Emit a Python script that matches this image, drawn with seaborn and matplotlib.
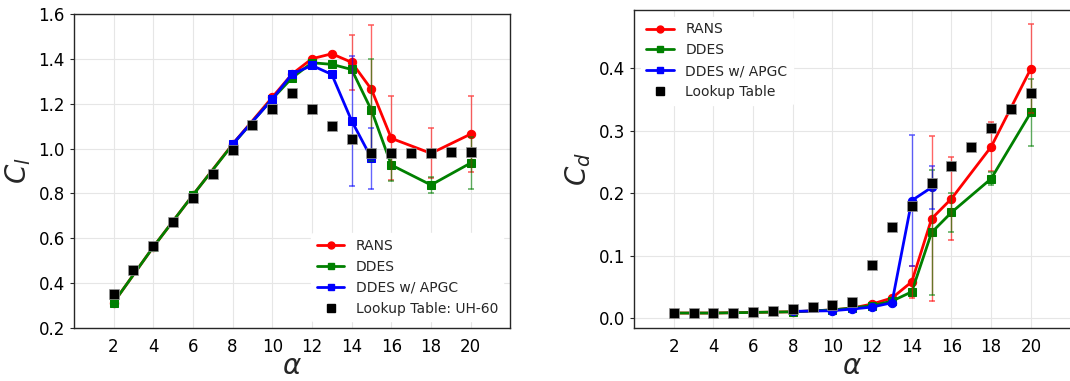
import numpy as np
import pandas as pd
import matplotlib
matplotlib.use("Agg")
import matplotlib.pyplot as plt
from matplotlib.lines import Line2D
import seaborn as sns

# ---------------- data ----------------
alpha_cfd = [2, 4, 6, 8, 10, 11, 12, 13, 14, 15, 16, 18, 20]
alpha_apgc = [8, 10, 11, 12, 13, 14, 15]
alpha_lut = list(range(2, 21))

cl_rans = [0.313, 0.561, 0.793, 1.020, 1.229, 1.333, 1.401, 1.423, 1.385, 1.264, 1.046, 0.979, 1.065]
cl_rans_err = [0, 0, 0, 0, 0, 0, 0, 0, 0.122, 0.286, 0.188, 0.112, 0.171]
cl_ddes = [0.313, 0.561, 0.793, 1.018, 1.222, 1.316, 1.383, 1.376, 1.353, 1.171, 0.927, 0.838, 0.936]
cl_ddes_err = [0, 0, 0, 0, 0, 0, 0, 0, 0, 0.228, 0.070, 0.035, 0.118]
cl_apgc = [1.020, 1.221, 1.333, 1.371, 1.331, 1.124, 0.957]
cl_apgc_err = [0, 0, 0, 0, 0, 0.290, 0.135]
cl_lut = [0.352, 0.459, 0.567, 0.673, 0.781, 0.887, 0.994, 1.104, 1.175, 1.249,
          1.175, 1.101, 1.041, 0.980, 0.982, 0.982, 0.982, 0.984, 0.986]

cd_rans = [0.008, 0.008, 0.009, 0.010, 0.013, 0.016, 0.0224, 0.032, 0.058, 0.159, 0.191, 0.274, 0.399]
cd_rans_err = [0, 0, 0, 0, 0, 0, 0, 0, 0.026, 0.132, 0.066, 0.039, 0.071]
cd_ddes = [0.008, 0.008, 0.009, 0.010, 0.013, 0.016, 0.020, 0.027, 0.042, 0.137, 0.169, 0.223, 0.329]
cd_ddes_err = [0, 0, 0, 0, 0, 0, 0, 0, 0, 0.100, 0.031, 0.010, 0.054]
cd_apgc = [0.0107, 0.0117, 0.0144, 0.0176, 0.0245, 0.188, 0.209]
cd_apgc_err = [0, 0, 0, 0, 0, 0.105, 0.034]
cd_lut = [0.008, 0.008, 0.008, 0.0085, 0.009, 0.0107, 0.0144, 0.017, 0.0208, 0.0256,
          0.0853, 0.145, 0.180, 0.2155, 0.244, 0.274, 0.3045, 0.334, 0.360]

xticks = [2, 4, 6, 8, 10, 12, 14, 16, 18, 20]
labels = ["RANS", "DDES", "DDES w/ APGC"]
colors = ["red", "green", "blue"]

# ---------------- style ----------------
sns.set_style("whitegrid", {"axes.edgecolor": "0.15", "grid.color": "0.9",
                            "ytick.left": True})
plt.rcParams["font.family"] = ["DejaVu Sans"]
plt.rcParams["mathtext.fontset"] = "dejavusans"

fig = plt.figure(figsize=(10.7, 3.81), dpi=100)
ax1 = fig.add_axes([0.069, 0.139, 0.408, 0.824])
ax2 = fig.add_axes([0.5925, 0.139, 0.408, 0.835])


def draw(ax, rans, rans_err, ddes, ddes_err, apgc, apgc_err, lut, lut_label, markers, loc):
    series = [
        (alpha_cfd, rans, rans_err),
        (alpha_cfd, ddes, ddes_err),
        (alpha_apgc, apgc, apgc_err),
    ]
    for (x, y, e), c, m in zip(series, colors, markers):
        df = pd.DataFrame({"x": x, "y": y})
        sns.lineplot(data=df, x="x", y="y", ax=ax, color=c, marker=m,
                     markersize=6, markeredgecolor=c, linewidth=2, zorder=3,
                     legend=False)
    for (x, y, e), c in zip(series, colors):
        xa, ya, ea = np.array(x), np.array(y), np.array(e)
        k = ea > 0
        ax.errorbar(xa[k], ya[k], yerr=ea[k], fmt="none", ecolor=c, elinewidth=1,
                    capsize=2.5, capthick=1.2, alpha=0.6, zorder=4)
    dfl = pd.DataFrame({"x": alpha_lut, "y": lut})
    sns.scatterplot(data=dfl, x="x", y="y", ax=ax, color="black", marker="s",
                    s=50, edgecolor="0.6", linewidth=0.5, zorder=5, legend=False)
    handles = [Line2D([], [], color=c, marker=m, markersize=5, linewidth=2)
               for c, m in zip(colors, ["o", "s", "s"])]
    handles.append(Line2D([], [], color="black", marker="s", markersize=6,
                          linestyle="none"))
    ax.legend(handles, labels + [lut_label], loc=loc, fontsize=10, frameon=True,
              edgecolor="white", facecolor="white", framealpha=1)
    ax.set_xlim(0, 22)
    ax.set_xticks(xticks)
    ax.tick_params(axis="y", labelsize=12, length=3, color="0.15", labelcolor="black")
    ax.tick_params(axis="x", labelsize=12, length=0, pad=7, labelcolor="black")
    ax.set_xlabel(r"$\alpha$", fontsize=20, labelpad=-3)
    for s in ax.spines.values():
        s.set_color("0.15")
        s.set_linewidth(1.0)


draw(ax1, cl_rans, cl_rans_err, cl_ddes, cl_ddes_err, cl_apgc, cl_apgc_err, cl_lut,
     "Lookup Table: UH-60", ["o", "s", "s"], "lower right")
ax1.set_ylim(0.2, 1.6)
ax1.set_yticks([0.2, 0.4, 0.6, 0.8, 1.0, 1.2, 1.4, 1.6])
ax1.set_ylabel(r"$C_l$", fontsize=20)

draw(ax2, cd_rans, cd_rans_err, cd_ddes, cd_ddes_err, cd_apgc, cd_apgc_err, cd_lut,
     "Lookup Table", ["o", "s", "o"], "upper left")
ax2.set_ylim(-0.016, 0.493)
ax2.set_yticks([0.0, 0.1, 0.2, 0.3, 0.4])
ax2.set_ylabel(r"$C_d$", fontsize=20)

fig.savefig("out.png", dpi=100)
